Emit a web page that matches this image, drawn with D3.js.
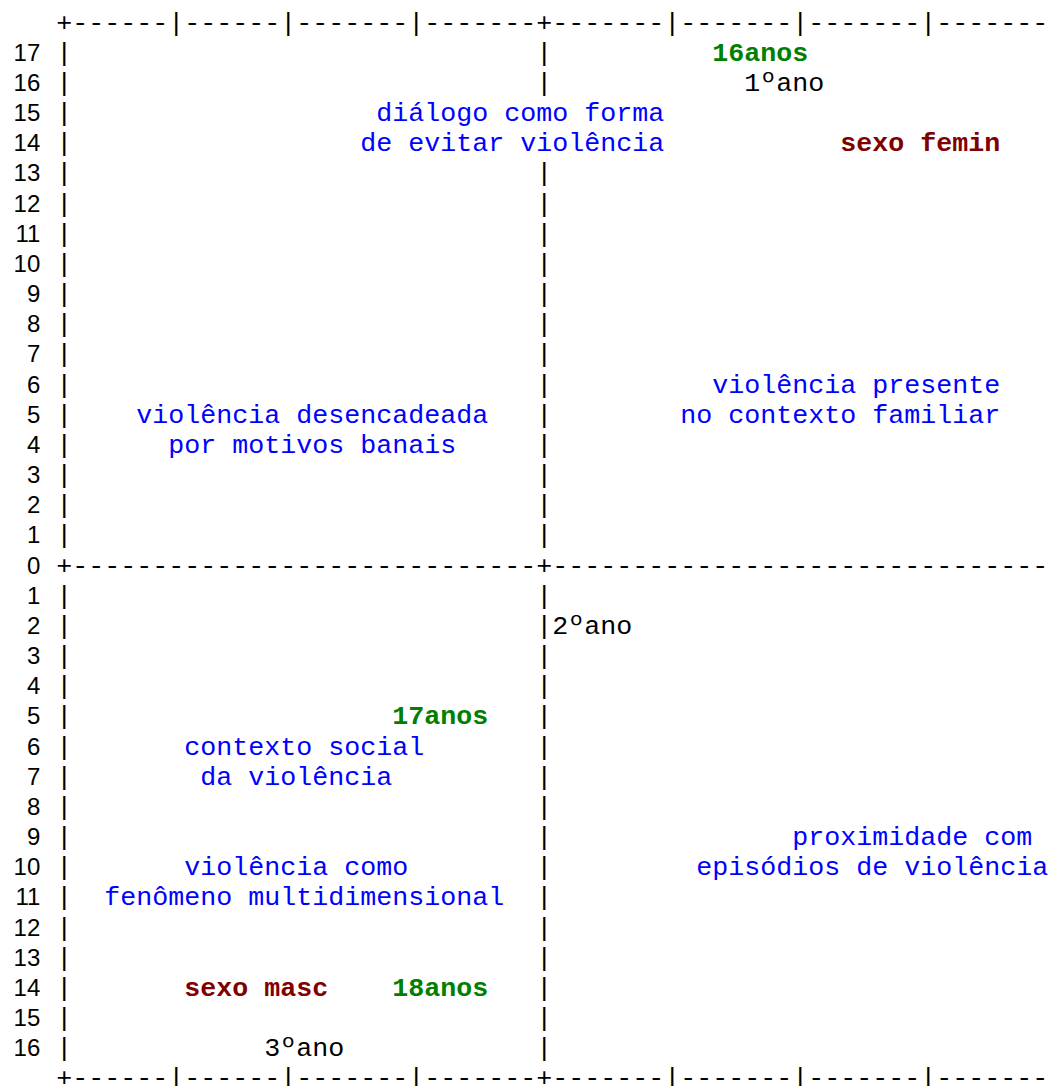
<!DOCTYPE html>
<html>
<head>
<meta charset="utf-8">
<script src="https://cdn.jsdelivr.net/npm/d3@7"></script>
<style>
  html, body { margin: 0; padding: 0; background: #fff; }
  svg { display: block; }
</style>
</head>
<body>
<div id="chart"></div>
<script>
// ---- data ----
// vertical axis rows (positive = upper half, negative = lower half)
const rowValues = d3.range(17, -17, -1);             // 17 ... -16
// tick marks on the top/bottom borders (column positions)
const borderTicks = [7, 14, 22, 38, 46, 54];
const originCol = 30;                                  // column of the vertical axis
const lastCol = 61;

// plotted terms: text, column, row, group
const termText = [
  "16anos", "1ºano", "diálogo como forma", "de evitar violência", "sexo femin",
  "violência presente", "no contexto familiar", "violência desencadeada", "por motivos banais",
  "2ºano", "17anos", "contexto social", "da violência", "proximidade com",
  "violência como", "episódios de violência", "fenômeno multidimensional",
  "sexo masc", "18anos", "3ºano"
];
const termCol = [41, 43, 20, 19, 49, 41, 39, 5, 7, 31, 21, 8, 9, 46, 8, 40, 3, 8, 21, 13];
const termRow = [17, 16, 15, 14, 14, 6, 5, 5, 4, -2, -5, -6, -7, -9, -10, -10, -11, -14, -14, -16];
const termGroup = [
  "age", "grade", "class", "class", "sex",
  "class", "class", "class", "class",
  "grade", "age", "class", "class", "class",
  "class", "class", "class",
  "sex", "age", "grade"
];

// ---- styles ----
const groupColor = { class: "#0000ff", age: "#008000", sex: "#800000", grade: "#000000" };
const groupBold = { class: false, age: true, sex: true, grade: false };

const W = 1056, H = 1086;
const charW = 16;
const monoFont = "'Liberation Mono', 'Courier New', monospace";
const fontSize = 26.667;

// ---- scales ----
const x = d3.scaleLinear().domain([0, 62]).range([64.3, 64.3 + 62 * charW]);   // char centers
const y = d3.scaleLinear().domain([18, -17]).range([30.5, 30.5 + 35 * 30.17]);  // baselines

const svg = d3.select("#chart").append("svg")
  .attr("width", W).attr("height", H)
  .attr("viewBox", `0 0 ${W} ${H}`);

svg.append("rect").attr("width", W).attr("height", H).attr("fill", "#fff");

const mono = g => g.attr("font-family", monoFont).attr("font-size", fontSize);

// ---- occupied cells (terms hide the axis bars) ----
const occupied = new Set();
termText.forEach((t, i) => {
  for (let k = 0; k < t.length; k++) occupied.add(termRow[i] + ":" + (termCol[i] + k));
});

// ---- border / zero lines ----
function borderChar(c) {
  if (c === 0 || c === originCol) return "+";
  return borderTicks.includes(c) ? "|" : "-";
}
function zeroChar(c) {
  return (c === 0 || c === originCol) ? "+" : "-";
}
const cols = d3.range(0, lastCol + 1);
const frameRows = [
  { row: 18, fn: borderChar },
  { row: 0, fn: zeroChar },
  { row: -17, fn: borderChar }
];
const frame = svg.append("g").attr("class", "frame").call(mono).attr("fill", "#000");
frameRows.forEach(fr => {
  frame.append("g").selectAll("text").data(cols).join("text")
    .attr("x", c => x(c)).attr("y", y(fr.row))
    .attr("text-anchor", "middle")
    .text(c => fr.fn(c));
});

// ---- vertical bars ----
const barData = [];
rowValues.filter(r => r !== 0).forEach(r => {
  [0, originCol].forEach(c => {
    if (!occupied.has(r + ":" + c)) barData.push({ r, c });
  });
});
svg.append("g").attr("class", "bars").call(mono).attr("fill", "#000")
  .selectAll("text").data(barData).join("text")
  .attr("x", d => x(d.c)).attr("y", d => y(d.r))
  .attr("text-anchor", "middle")
  .text("|");

// ---- row labels ----
svg.append("g").attr("class", "rowlabels")
  .attr("font-family", "'Liberation Sans', Arial, sans-serif")
  .attr("font-size", 24).attr("fill", "#000")
  .selectAll("text").data(rowValues).join("text")
  .attr("x", x(-2) + charW / 2).attr("y", d => y(d))
  .attr("text-anchor", "end")
  .text(d => Math.abs(d));

// ---- terms ----
svg.append("g").attr("class", "terms").call(mono)
  .selectAll("text").data(termText.map((t, i) => i)).join("text")
  .attr("x", i => x(termCol[i]) - charW / 2)
  .attr("y", i => y(termRow[i]))
  .attr("fill", i => groupColor[termGroup[i]])
  .attr("font-weight", i => groupBold[termGroup[i]] ? "bold" : "normal")
  .style("white-space", "pre")
  .text(i => termText[i]);
</script>
</body>
</html>
